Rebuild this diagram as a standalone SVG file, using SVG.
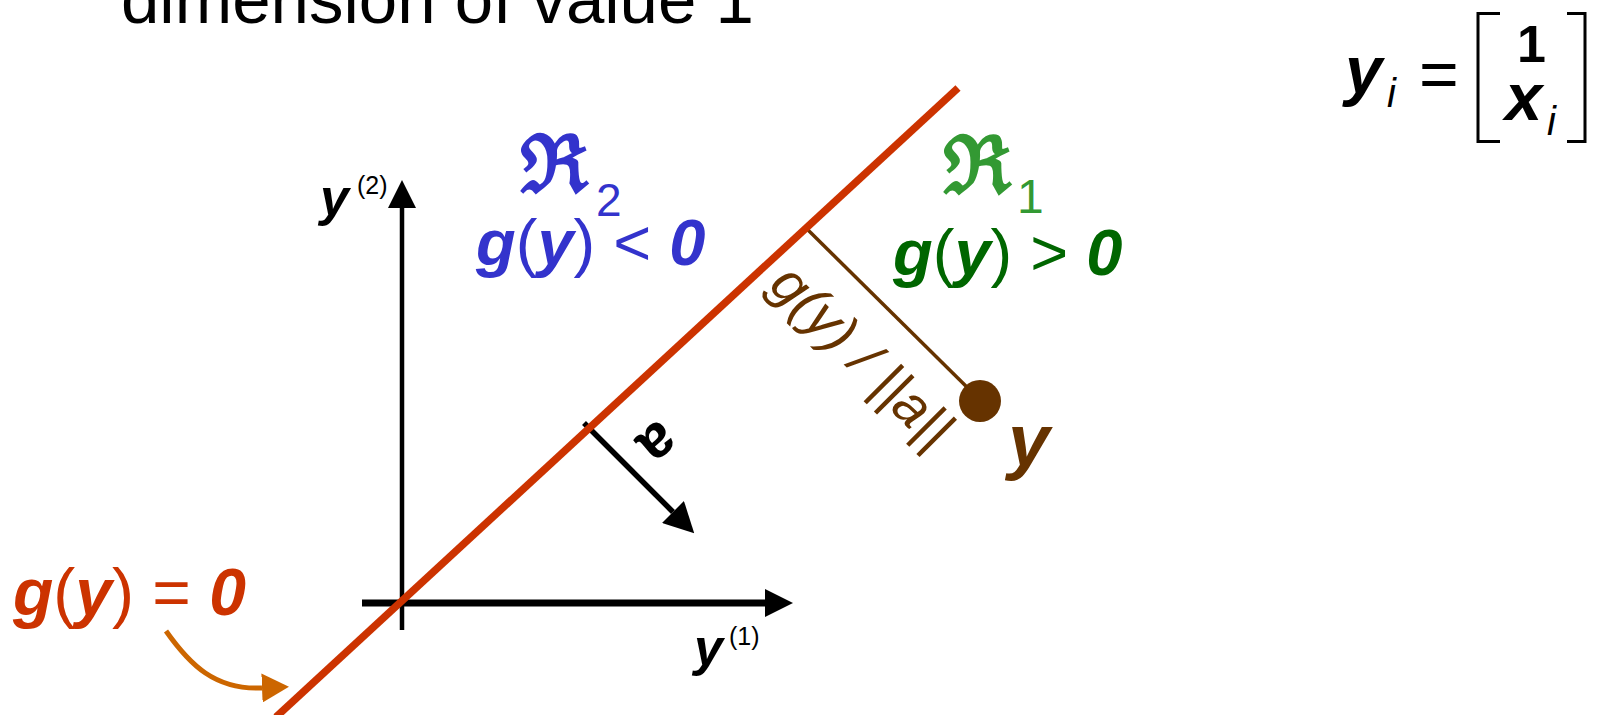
<svg xmlns="http://www.w3.org/2000/svg" width="1602" height="715" viewBox="0 0 1602 715">
<style>
text { font-family: "Liberation Sans", Arial, sans-serif; }
.bi { font-weight: bold; font-style: italic; }
.r { font-weight: normal; font-style: normal; }
.frak { font-family: "DejaVu Serif", serif; font-weight: bold; }
.axis { stroke: #000; fill: none; }
</style>
<defs>
<marker id="ahAxis" markerUnits="userSpaceOnUse" markerWidth="28" markerHeight="28" refX="0" refY="14" orient="auto" viewBox="0 0 28 28"><path d="M0,0 L28,14 L0,28 z" fill="#000"/></marker>
<marker id="ahA" markerUnits="userSpaceOnUse" markerWidth="30" markerHeight="31" refX="0" refY="15.5" orient="auto" viewBox="0 0 30 31"><path d="M0,0 L30,15.5 L0,31 z" fill="#000"/></marker>
<marker id="ahOrange" markerUnits="userSpaceOnUse" markerWidth="27" markerHeight="29" refX="0" refY="14.5" orient="auto" viewBox="0 0 27 29"><path d="M0,0 L27,14.5 L0,29 z" fill="#CC6600"/></marker>
</defs>
<rect width="1602" height="715" fill="#fff"/>

<g id="title">
<text x="121" y="23" font-size="69" fill="#000">dimension of value 1</text>
</g>

<g id="connectors">
<line class="axis" x1="402" y1="630" x2="402" y2="208" stroke-width="4.5" marker-end="url(#ahAxis)"/>
<line class="axis" x1="362" y1="603" x2="765" y2="603" stroke-width="7" marker-end="url(#ahAxis)"/>
<line x1="584" y1="423" x2="673" y2="512" stroke="#000" stroke-width="5.5" marker-end="url(#ahA)"/>
<line x1="806" y1="228" x2="980" y2="400" stroke="#663300" stroke-width="3.5"/>
<line x1="276" y1="717" x2="958" y2="88" stroke="#CC3300" stroke-width="7.5"/>
<path d="M166,631 C190,665 215,690 262,688" fill="none" stroke="#CC6600" stroke-width="5" marker-end="url(#ahOrange)"/>
</g>

<g id="point-y">
<circle cx="980" cy="401" r="21" fill="#663300"/>
<text x="1008" y="466" font-size="75" class="bi" fill="#663300">y</text>
</g>

<g id="axis-y2-label">
<text x="320" y="215" font-size="52" class="bi" fill="#000">y</text>
<text x="357" y="194" font-size="25" fill="#000">(2)</text>
</g>

<g id="axis-y1-label">
<text x="694" y="665" font-size="52" class="bi" fill="#000">y</text>
<text x="729" y="645" font-size="25" fill="#000">(1)</text>
</g>

<g id="region-2">
<text x="520" y="192" class="frak" font-size="80" fill="#3333CC">ℜ</text>
<text x="596" y="216" font-size="46" fill="#3333CC">2</text>
<text x="476" y="265" font-size="65" fill="#3333CC"><tspan class="bi">g</tspan><tspan class="r">(</tspan><tspan class="bi">y</tspan><tspan class="r">) &lt; </tspan><tspan class="bi">0</tspan></text>
</g>

<g id="region-1">
<text x="943" y="193" class="frak" font-size="80" fill="#339933">ℜ</text>
<text x="1017" y="213" font-size="48" fill="#339933">1</text>
<text x="893" y="275" font-size="65" fill="#006600"><tspan class="bi">g</tspan><tspan class="r">(</tspan><tspan class="bi">y</tspan><tspan class="r">) &gt; </tspan><tspan class="bi">0</tspan></text>
</g>

<g id="boundary-label">
<text x="13" y="615" font-size="66" fill="#CC3300"><tspan class="bi">g</tspan><tspan class="r">(</tspan><tspan class="bi">y</tspan><tspan class="r">) = </tspan><tspan class="bi">0</tspan></text>
</g>

<g id="distance-label">
<text transform="translate(767,287) rotate(45)" x="0" y="0" font-size="56" font-style="italic" fill="#663300">g(y) / ||a||</text>
</g>

<g id="vector-a-label">
<text transform="translate(646,429) rotate(140)" x="0" y="0" font-size="60" font-weight="bold" text-anchor="middle" fill="#000">a</text>
</g>

<g id="equation">
<text x="1345" y="93" font-size="67" class="bi" fill="#000">y</text>
<text x="1387" y="107" font-size="40" font-style="italic" fill="#000">i</text>
<text x="1419" y="98" font-size="68" fill="#000">=</text>
<text x="1517" y="62" font-size="52" font-weight="bold" fill="#000">1</text>
<text x="1505" y="120" font-size="67" class="bi" fill="#000">x</text>
<text x="1547" y="135" font-size="40" font-style="italic" fill="#000">i</text>
<path d="M1500,13.5 H1478 V141.5 H1500 M1567,13.5 H1585 V141.5 H1567" fill="none" stroke="#000" stroke-width="3"/>
</g>
</svg>
